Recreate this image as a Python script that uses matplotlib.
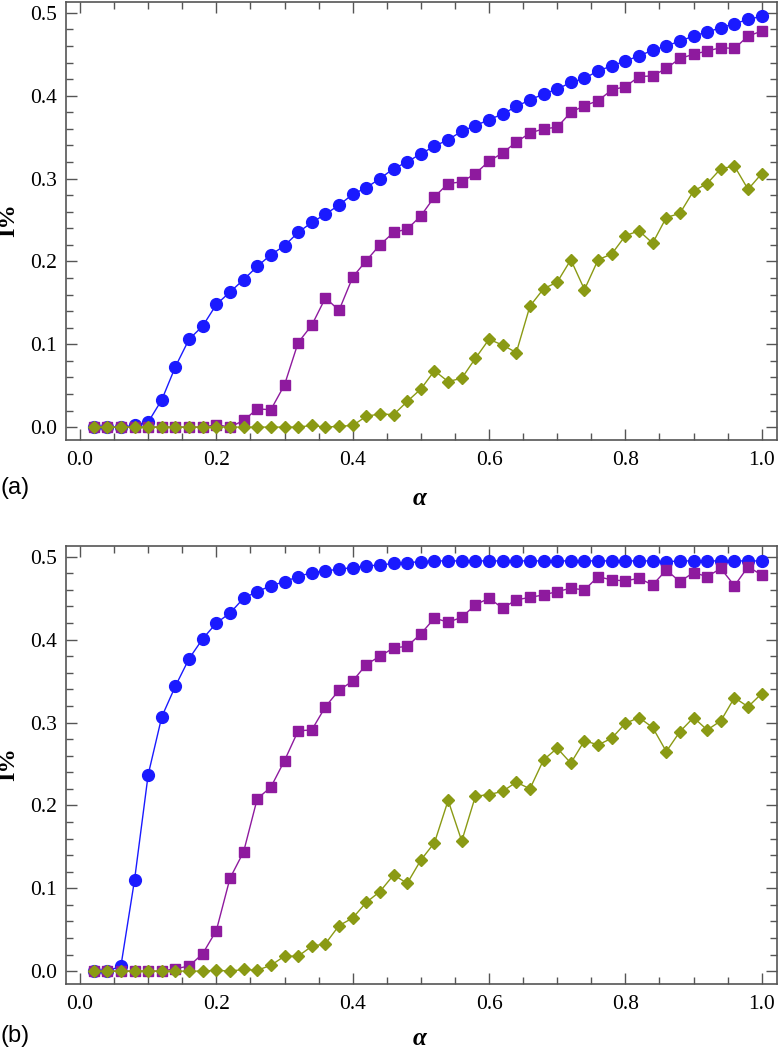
import numpy as np
import matplotlib.pyplot as plt
from matplotlib.ticker import MultipleLocator, FormatStrFormatter

plt.rcParams['font.family'] = ['Liberation Serif', 'DejaVu Serif']

# alpha grid: 0.02 ... 1.00
alpha = np.round(np.arange(1, 51) * 0.02, 2)

# panel (a)
a_blue = [0.0, 0.0, 0.0, 0.002, 0.006, 0.033, 0.073, 0.106, 0.122, 0.148,
          0.163, 0.178, 0.194, 0.208, 0.219, 0.235, 0.247, 0.257, 0.268, 0.281,
          0.289, 0.300, 0.312, 0.320, 0.330, 0.339, 0.347, 0.357, 0.364, 0.371,
          0.378, 0.387, 0.395, 0.402, 0.408, 0.416, 0.421, 0.430, 0.436, 0.442,
          0.448, 0.455, 0.460, 0.466, 0.472, 0.477, 0.482, 0.487, 0.492, 0.496]
a_purple = [0.0, 0.0, 0.0, 0.0, 0.0, 0.0, 0.0, 0.0, 0.0, 0.003,
            0.0, 0.008, 0.022, 0.021, 0.051, 0.102, 0.123, 0.156, 0.141, 0.181,
            0.201, 0.220, 0.235, 0.239, 0.255, 0.278, 0.294, 0.296, 0.306, 0.321,
            0.331, 0.344, 0.355, 0.360, 0.362, 0.380, 0.388, 0.394, 0.407, 0.411,
            0.423, 0.424, 0.433, 0.445, 0.450, 0.454, 0.458, 0.457, 0.472, 0.478]
a_olive = [0.0, 0.0, 0.0, 0.0, 0.0, 0.0, 0.0, 0.0, 0.0, 0.0,
           0.0, 0.0, 0.0, 0.0, 0.0, 0.0, 0.002, 0.0, 0.001, 0.002,
           0.013, 0.016, 0.015, 0.031, 0.046, 0.068, 0.055, 0.059, 0.083, 0.106,
           0.099, 0.090, 0.146, 0.167, 0.175, 0.202, 0.166, 0.202, 0.209, 0.231,
           0.237, 0.222, 0.253, 0.258, 0.285, 0.294, 0.312, 0.315, 0.287, 0.306]

# panel (b)
b_blue = [0.0, 0.0, 0.006, 0.110, 0.237, 0.307, 0.344, 0.377, 0.401, 0.420,
          0.432, 0.450, 0.458, 0.465, 0.470, 0.476, 0.481, 0.483, 0.485, 0.487,
          0.489, 0.490, 0.492, 0.493, 0.494, 0.495, 0.495, 0.495, 0.495, 0.495,
          0.495, 0.495, 0.495, 0.495, 0.495, 0.495, 0.495, 0.495, 0.495, 0.495,
          0.495, 0.495, 0.494, 0.495, 0.495, 0.495, 0.495, 0.495, 0.495, 0.495]
b_purple = [0.0, 0.0, 0.0, 0.0, 0.0, 0.0, 0.003, 0.006, 0.021, 0.049,
            0.112, 0.144, 0.208, 0.222, 0.254, 0.290, 0.291, 0.319, 0.339, 0.350,
            0.370, 0.380, 0.390, 0.392, 0.407, 0.426, 0.421, 0.427, 0.442, 0.450,
            0.438, 0.448, 0.451, 0.454, 0.458, 0.462, 0.460, 0.476, 0.472, 0.471,
            0.474, 0.466, 0.484, 0.470, 0.481, 0.476, 0.486, 0.465, 0.488, 0.478]
b_olive = [0.0, 0.0, 0.0, 0.0, 0.0, 0.0, 0.0, 0.0, 0.0, 0.001,
           0.0, 0.002, 0.001, 0.007, 0.018, 0.018, 0.030, 0.033, 0.055, 0.064,
           0.083, 0.096, 0.116, 0.106, 0.134, 0.155, 0.206, 0.157, 0.211, 0.213,
           0.217, 0.228, 0.220, 0.255, 0.269, 0.251, 0.278, 0.273, 0.281, 0.299,
           0.306, 0.294, 0.265, 0.289, 0.306, 0.291, 0.302, 0.330, 0.319, 0.335]

panels = [("(a)", a_blue, a_purple, a_olive), ("(b)", b_blue, b_purple, b_olive)]

blue = "#1a1aff"
purple = "#8e1a9e"
olive = "#8a9a14"
frame = "#555555"

fig = plt.figure(figsize=(7.8, 10.5), dpi=100)
boxes = [[0.0842, 0.581, 0.9116, 0.417], [0.0842, 0.0629, 0.9116, 0.4171]]
tag_y = [0.535, 0.013]
alpha_y = [0.525, 0.011]
ylab_y = [0.7905, 0.272]

for (tag, yb, yp, yo), box, ty, aly, yly in zip(panels, boxes, tag_y, alpha_y, ylab_y):
    ax = fig.add_axes(box)
    ax.plot(alpha, yb, "-o", color=blue, lw=1, ms=8.5, mec=blue)
    ax.plot(alpha, yp, "-s", color=purple, lw=1, ms=7, mec=purple)
    ax.plot(alpha, yo, "-D", color=olive, lw=1, ms=6.5, mec=olive)

    ax.set_xlim(-0.021, 1.022)
    ax.set_ylim(-0.0155, 0.513)
    ax.xaxis.set_major_locator(MultipleLocator(0.2))
    ax.xaxis.set_minor_locator(MultipleLocator(0.05))
    ax.yaxis.set_major_locator(MultipleLocator(0.1))
    ax.yaxis.set_minor_locator(MultipleLocator(0.02))
    ax.xaxis.set_major_formatter(FormatStrFormatter("%.1f"))
    ax.yaxis.set_major_formatter(FormatStrFormatter("%.1f"))
    ax.tick_params(which="both", direction="in", top=True, right=True,
                   color=frame, width=1, labelsize=15.5)
    ax.tick_params(which="major", length=8)
    ax.tick_params(which="minor", length=5)
    ax.tick_params(axis="x", pad=8)
    ax.tick_params(axis="y", pad=6)
    for sp in ax.spines.values():
        sp.set_color(frame)
        sp.set_linewidth(1.2)

    # labels placed in figure coordinates
    fig.text(0.001, ty, tag, fontsize=17, family=["Liberation Sans", "DejaVu Sans"],
             ha="left", va="center")
    fig.text(0.5385, aly, "\u03b1", fontsize=18, style="italic", weight="bold",
             ha="center", va="center")
    fig.text(0.0115, yly, "I%", fontsize=17.5, weight="bold",
             rotation=90, ha="center", va="center")

fig.savefig("out.png", dpi=100)
